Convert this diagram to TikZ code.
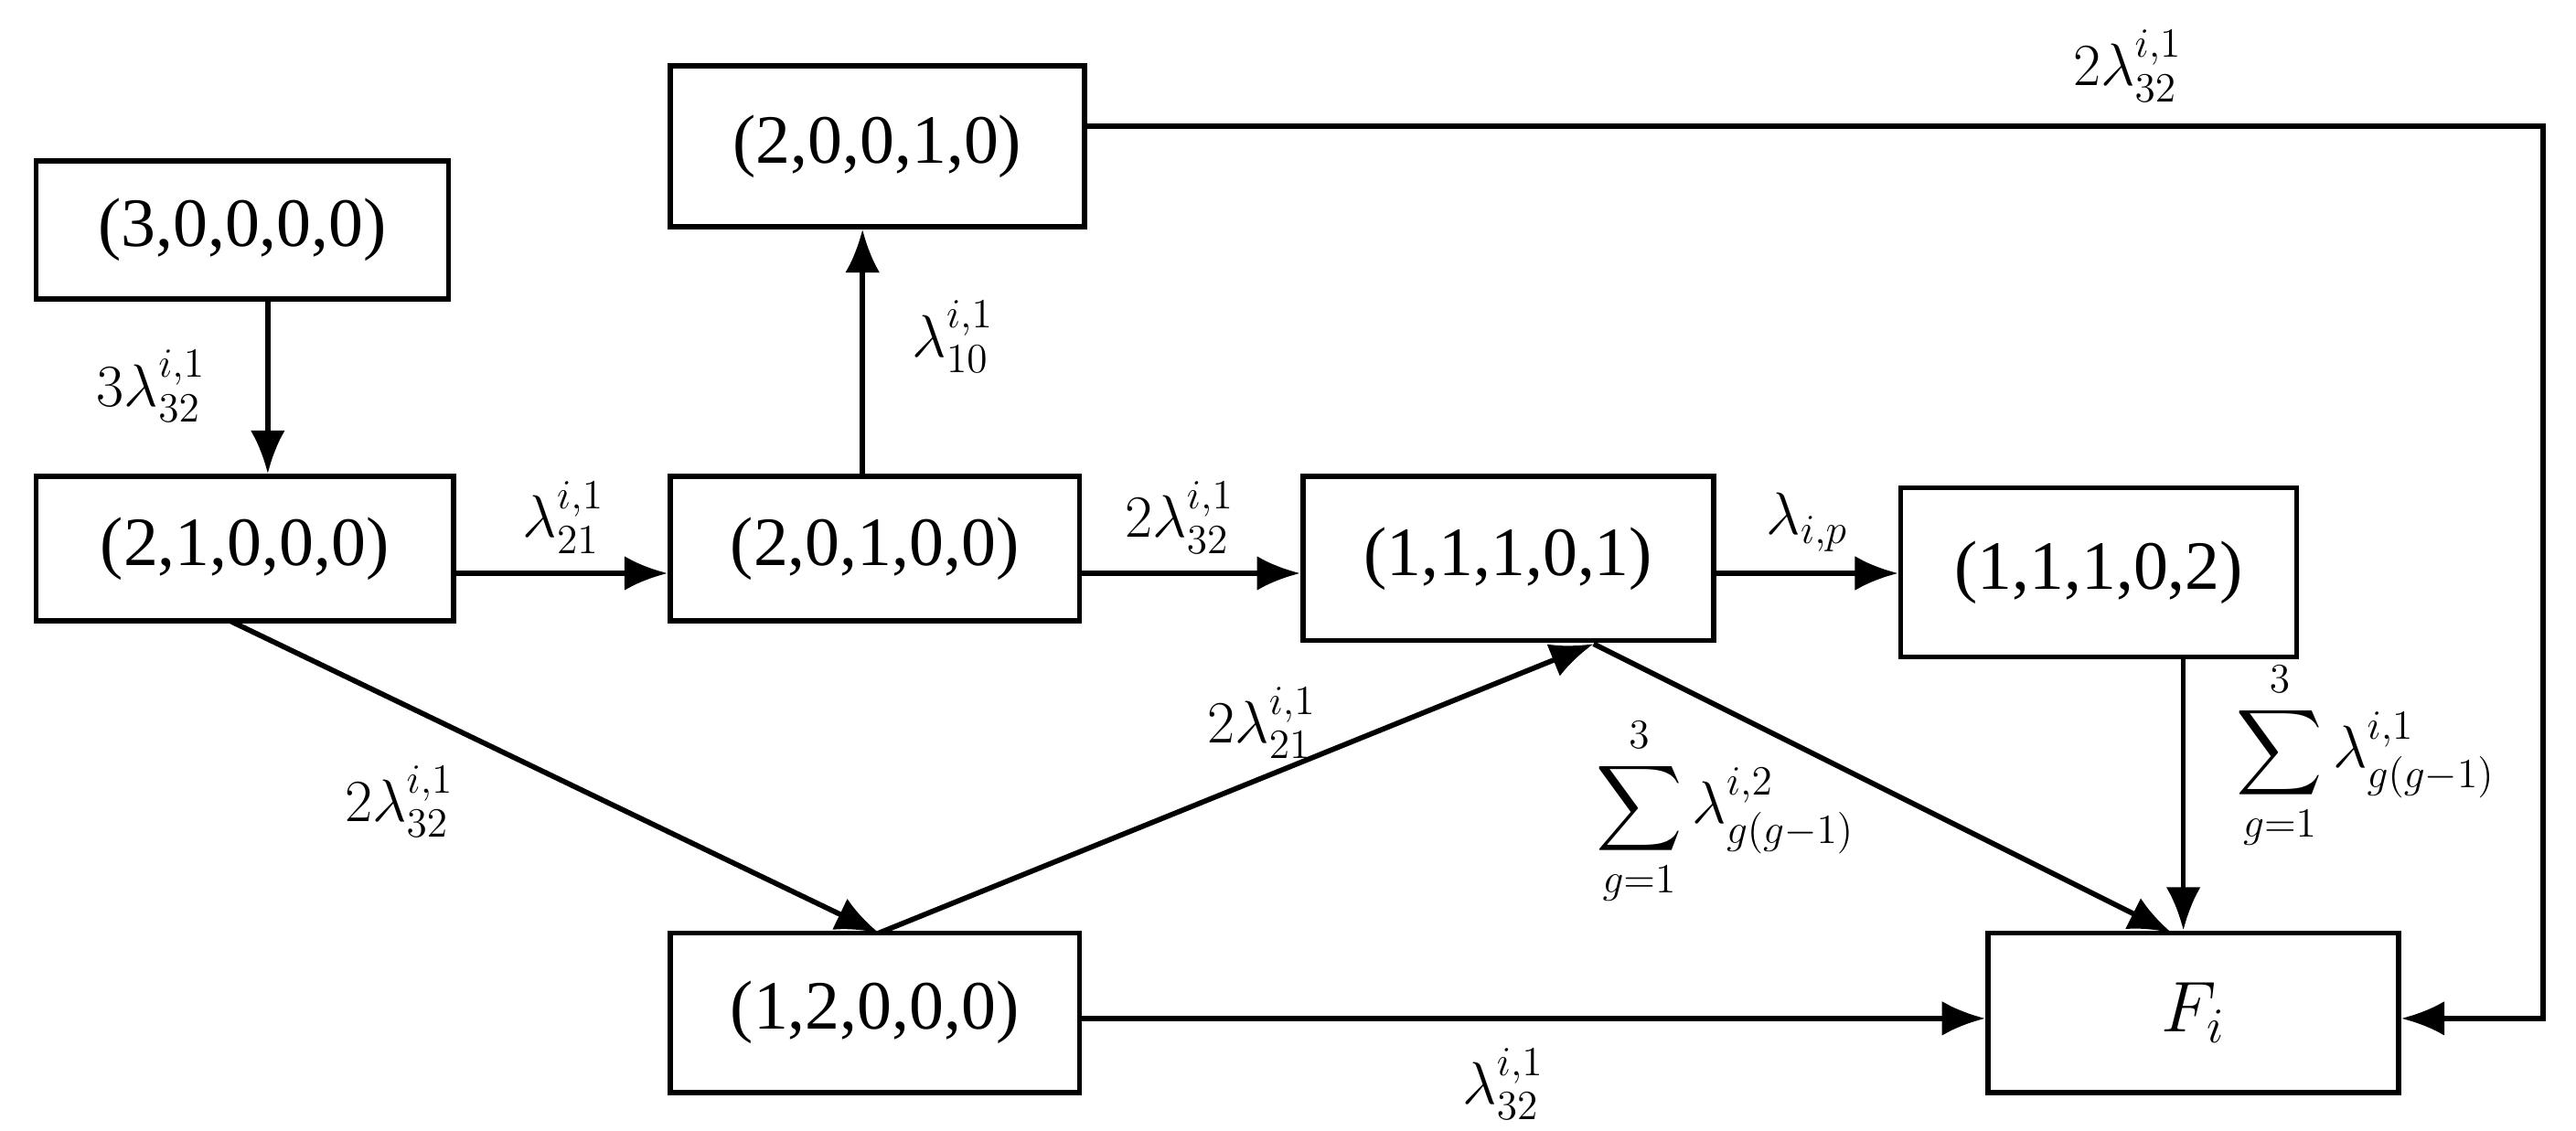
\documentclass[tikz,border=0pt]{standalone}
\usepackage{amsmath}
\usepackage{fontspec}
\setmainfont{Liberation Serif}
\usetikzlibrary{arrows.meta}
\begin{document}
\begin{tikzpicture}[x=0.02cm,y=-0.02cm,
  box/.style={draw,line width=1.8pt,inner sep=0pt,font=\fontsize{24}{28}\selectfont},
  arr/.style={line width=1.8pt,-{Latex[length=15pt,width=12pt]}},
  lab/.style={font=\fontsize{22}{26}\selectfont}]
\useasboundingbox (0,0) rectangle (1568,688);
\node[box,minimum width=251*0.02cm,minimum height=84*0.02cm] (a) at (147.5,140) {(3,0,0,0,0)};
\node[box,minimum width=252*0.02cm,minimum height=98*0.02cm] (b) at (534,89) {(2,0,0,1,0)};
\node[box,minimum width=254*0.02cm,minimum height=88*0.02cm] (c) at (149,334) {(2,1,0,0,0)};
\node[box,minimum width=249*0.02cm,minimum height=88*0.02cm] (d) at (532.5,334) {(2,0,1,0,0)};
\node[box,minimum width=250*0.02cm,minimum height=100*0.02cm] (e) at (918,340) {(1,1,1,0,1)};
\node[box,minimum width=241*0.02cm,minimum height=103*0.02cm] (f) at (1277.5,348.5) {(1,1,1,0,2)};
\node[box,minimum width=249*0.02cm,minimum height=97*0.02cm] (g) at (532.5,616.5) {(1,2,0,0,0)};
\node[box,minimum width=250*0.02cm,minimum height=97*0.02cm] (h) at (1335,616.5) {$F_i$};
\coordinate (cb) at (140,378);
\coordinate (gt) at (535,568);
\coordinate (eb) at (970,392);
\coordinate (ht) at (1322,568);
\coordinate (k1) at (1548,77);
\coordinate (k2) at (1548,620);
\draw[arr] (a.south -| 163,0) -- (c.north -| 163,0);
\draw[arr] (c.east |- 0,349) -- (d.west |- 0,349);
\draw[arr] (d.north -| 525,0) -- (b.south -| 525,0);
\draw[arr] (d.east |- 0,349) -- (e.west |- 0,349);
\draw[arr] (e.east |- 0,349) -- (f.west |- 0,349);
\draw[arr] (f.south -| 1329,0) -- (h.north -| 1329,0);
\draw[arr] (b.east |- k1) -- (k1) -- (k2) -- (h.east |- k2);
\draw[arr] (cb) -- (gt);
\draw[arr] (gt) -- (eb);
\draw[arr] (eb) -- (ht);
\draw[arr] (g.east |- 0,620) -- (h.west |- 0,620);
\node[lab] (l1) at (92,235) {$3\lambda_{32}^{i,1}$};
\node[lab] (l2) at (343,315) {$\lambda_{21}^{i,1}$};
\node[lab] (l3) at (580,205) {$\lambda_{10}^{i,1}$};
\node[lab] (l4) at (718,315) {$2\lambda_{32}^{i,1}$};
\node[lab] (l5) at (1100,318) {$\lambda_{i,p}$};
\node[lab] (l6) at (1295,40) {$2\lambda_{32}^{i,1}$};
\node[lab] (l7) at (243,488) {$2\lambda_{32}^{i,1}$};
\node[lab] (l8) at (768,440) {$2\lambda_{21}^{i,1}$};
\node[lab] (l9) at (1050,494) {$\displaystyle\sum_{g=1}^{3}\lambda_{g(g-1)}^{i,2}$};
\node[lab] (l10) at (1440,460) {$\displaystyle\sum_{g=1}^{3}\lambda_{g(g-1)}^{i,1}$};
\node[lab] (l11) at (915,660) {$\lambda_{32}^{i,1}$};
\end{tikzpicture}
\end{document}
